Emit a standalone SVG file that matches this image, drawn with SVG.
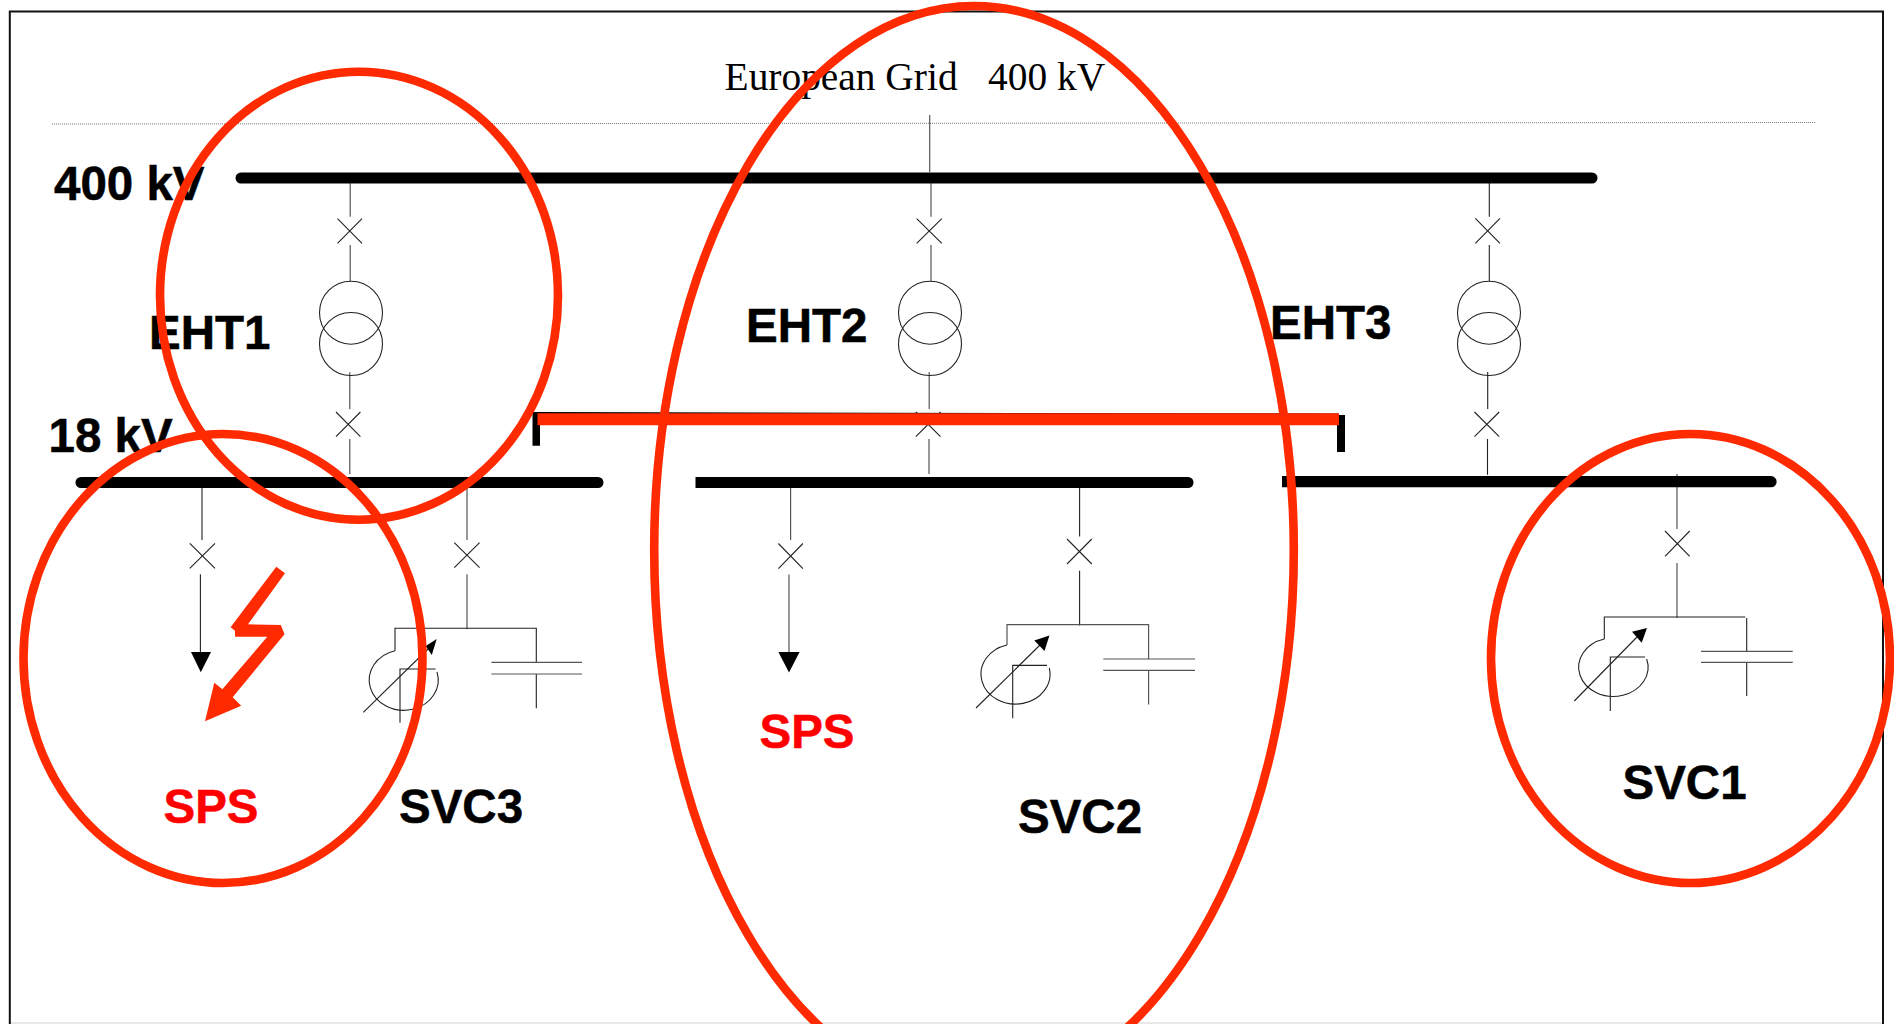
<svg xmlns="http://www.w3.org/2000/svg" width="1894" height="1024" viewBox="0 0 1894 1024">
<style>
.t{fill:none;stroke:#222;stroke-width:1.1}
.g{fill:none;stroke:#555;stroke-width:1.2}
.bus{fill:none;stroke:#000;stroke-width:11;stroke-linecap:round}
.sq{fill:#000}
.lb{font-family:"Liberation Sans",Arial,sans-serif;font-weight:700;font-size:47.500px;fill:#000;stroke:#000;stroke-width:.5}
.red{fill:#f00;stroke:#f00}
.ti{font-family:"Liberation Serif","Times New Roman",serif;font-size:39.400px;fill:#000}
.ring{fill:none;stroke:#ff2a00;stroke-width:8.600}
.hd{fill:#000}
</style>
<rect width="1894" height="1024" fill="#fff"/>
<g id="frame">
<path d="M9.800 1024V11.500H1883V1024" fill="none" stroke="#111" stroke-width="2"/>
<path d="M11 1023H1882" stroke="#e8e8e8" stroke-width="2"/>
<path d="M52 124L1816 122.500" fill="none" stroke="#777" stroke-width="1" stroke-dasharray="1 1"/>
</g>
<g id="connectors">
<path class="g" d="M929.700 115V172M350.200 183V216.700M350.200 245V281M349.800 372.300V409.300M349.800 439V474"/>
<path class="g" d="M931 183V216.700M931 245V281M929.200 372V409M929 439V474"/>
<path class="t" d="M1489.300 183V216.700M1489.300 245V281M1487.700 372V409M1487.500 439V474.700"/>
<path class="t" d="M202 488V540M200.400 574.300V652"/>
<path class="g" d="M467 488V540M467 574.300V629.300"/>
<path class="t" d="M395 650.700V628.300H536.300V662.300M536.300 674V708.300"/>
<path class="g" d="M790.600 488V540M789 574.400V652"/>
<path class="t" d="M1079.600 488V536.600M1079.600 570.800V625.500"/>
<path class="g" d="M1007 645V624.700H1148.600V659M1148.600 670.400V704.600"/>
<path class="g" d="M1677 474V529M1677 563V618"/>
<path class="t" d="M1604.300 639V617H1745.300M1746.700 618V651.300M1746.700 662.300V696"/>
</g>
<g id="bus-400"><path class="bus" d="M241 178H1592"/></g>
<g id="bus-18-1"><path class="bus" d="M81 482.500H598"/></g>
<g id="bus-18-2"><path class="sq" d="M695.500 477H1188a5.500 5.500 0 0 1 0 11H695.500Z"/></g>
<g id="bus-18-3"><path class="sq" d="M1282 476H1771a5.500 5.500 0 0 1 0 11.300H1282Z"/></g>
<g id="breakers">
<path id="cb1" class="t" d="M337.500 218.700L362 243.300M362 218.700L337.500 243.300"/>
<path id="cb2" class="t" d="M336 412L360.400 436.700M360.400 412L336 436.700"/>
<path id="cb3" class="t" d="M916.700 218.700L941.800 243.300M941.800 218.700L916.700 243.300"/>
<path id="cb4" class="t" d="M915.800 412L940.500 436.700M940.500 412L915.800 436.700"/>
<path id="cb5" class="t" d="M1475.300 218.300L1500 243.300M1500 218.300L1475.300 243.300"/>
<path id="cb6" class="t" d="M1474.500 412L1499.200 436.700M1499.200 412L1474.500 436.700"/>
<path id="cb7" class="t" d="M189.800 543.300L215 568.300M215 543.300L189.800 568.300"/>
<path id="cb8" class="t" d="M454.300 542.700L479.600 567.700M479.600 542.700L454.300 567.700"/>
<path id="cb9" class="t" d="M778.400 543.500L802.900 568.600M802.900 543.500L778.400 568.600"/>
<path id="cb10" class="t" d="M1067 539L1091.800 564M1091.800 539L1067 564"/>
<path id="cb11" class="t" d="M1665 531L1689.700 556.300M1689.700 531L1665 556.300"/>
</g>
<g id="eht1-transformer"><circle class="t" cx="351" cy="312.700" r="31.500"/><circle class="t" cx="351" cy="344" r="31.500"/></g>
<g id="eht2-transformer"><circle class="t" cx="930" cy="312.700" r="31.500"/><circle class="t" cx="930" cy="344" r="31.500"/></g>
<g id="eht3-transformer"><circle class="t" cx="1489" cy="312.700" r="31.500"/><circle class="t" cx="1489" cy="344" r="31.500"/></g>
<g id="load1"><path class="hd" d="M191 652H211L200.800 672.300Z"/></g>
<g id="load2"><path class="hd" d="M778.400 652H799.600L789 672.600Z"/></g>
<g id="svc3">
<path class="t" d="M395 650.700A34.500 30.300 0 1 0 437 672"/>
<path class="t" d="M435.500 669H400V722.700"/>
<path class="t" d="M363.300 712.300L431 646"/>
<path class="hd" d="M436.700 639L425.700 646L431.800 655Z"/>
<path class="g" d="M491.400 662.300H582M491.400 674H582"/>
</g>
<g id="svc2">
<path class="t" d="M1007 645A34.500 30 0 1 0 1049.300 668"/>
<path class="t" d="M1047 665.400H1012.700V718.300"/>
<path class="t" d="M976 708L1040 645"/>
<path class="hd" d="M1049.400 635.500L1034.300 640.600L1044.500 651Z"/>
<path class="g" d="M1103.300 659H1195M1103.300 670.400H1195"/>
</g>
<g id="svc1">
<path class="t" d="M1604.300 639A34.700 29.200 0 1 0 1646.700 659"/>
<path class="t" d="M1645 657H1610.300V711"/>
<path class="t" d="M1574.300 701L1637 637"/>
<path class="hd" d="M1647 628L1632 631.700L1641.700 642.700Z"/>
<path class="g" d="M1701 651.300H1792.700M1701 662.300H1792.700"/>
</g>
<g id="labels">
<text class="ti" x="724.600" y="90.300">European Grid</text>
<text class="ti" x="988" y="90.300">400 kV</text>
<text class="lb" x="54" y="200">400 kV</text>
<text class="lb" x="48.500" y="451.700">18 kV</text>
<text class="lb" x="149" y="349.300">EHT1</text>
<text class="lb" x="746" y="342.300">EHT2</text>
<text class="lb" x="1270" y="339.300">EHT3</text>
<text class="lb red" x="163.500" y="823.300">SPS</text>
<text class="lb red" x="759.500" y="747.800">SPS</text>
<text class="lb" x="399" y="822.700">SVC3</text>
<text class="lb" x="1018" y="832.500">SVC2</text>
<text class="lb" x="1622.500" y="799.300">SVC1</text>
</g>
<g id="link">
<path d="M536 415.500L1339 417" fill="none" stroke="#000" stroke-width="7"/>
<path class="sq" d="M532.500 412H540V445.700H532.500ZM1337 415H1345V452H1337Z"/>
<path d="M537.500 419.200H1339" fill="none" stroke="#ff2a00" stroke-width="12"/>
</g>
<g id="fault">
<path fill="#ff2a00" d="M276.300 566.700L285 573.300L248 624.300L280.800 625L284.500 634.300L232.600 697.300L241.200 705.700L205 721.300L214.300 682.700L222.400 689.300L267.300 636.700H235V630.700L230.600 627.300Z"/>
</g>
<g id="rings">
<ellipse class="ring" cx="359" cy="295.700" rx="199" ry="224"/>
<ellipse class="ring" cx="223" cy="658.500" rx="199.500" ry="224.500"/>
<ellipse class="ring" cx="974" cy="550" rx="319.800" ry="544"/>
<ellipse class="ring" cx="1690.500" cy="658.500" rx="199.500" ry="224.500"/>
</g>
</svg>
